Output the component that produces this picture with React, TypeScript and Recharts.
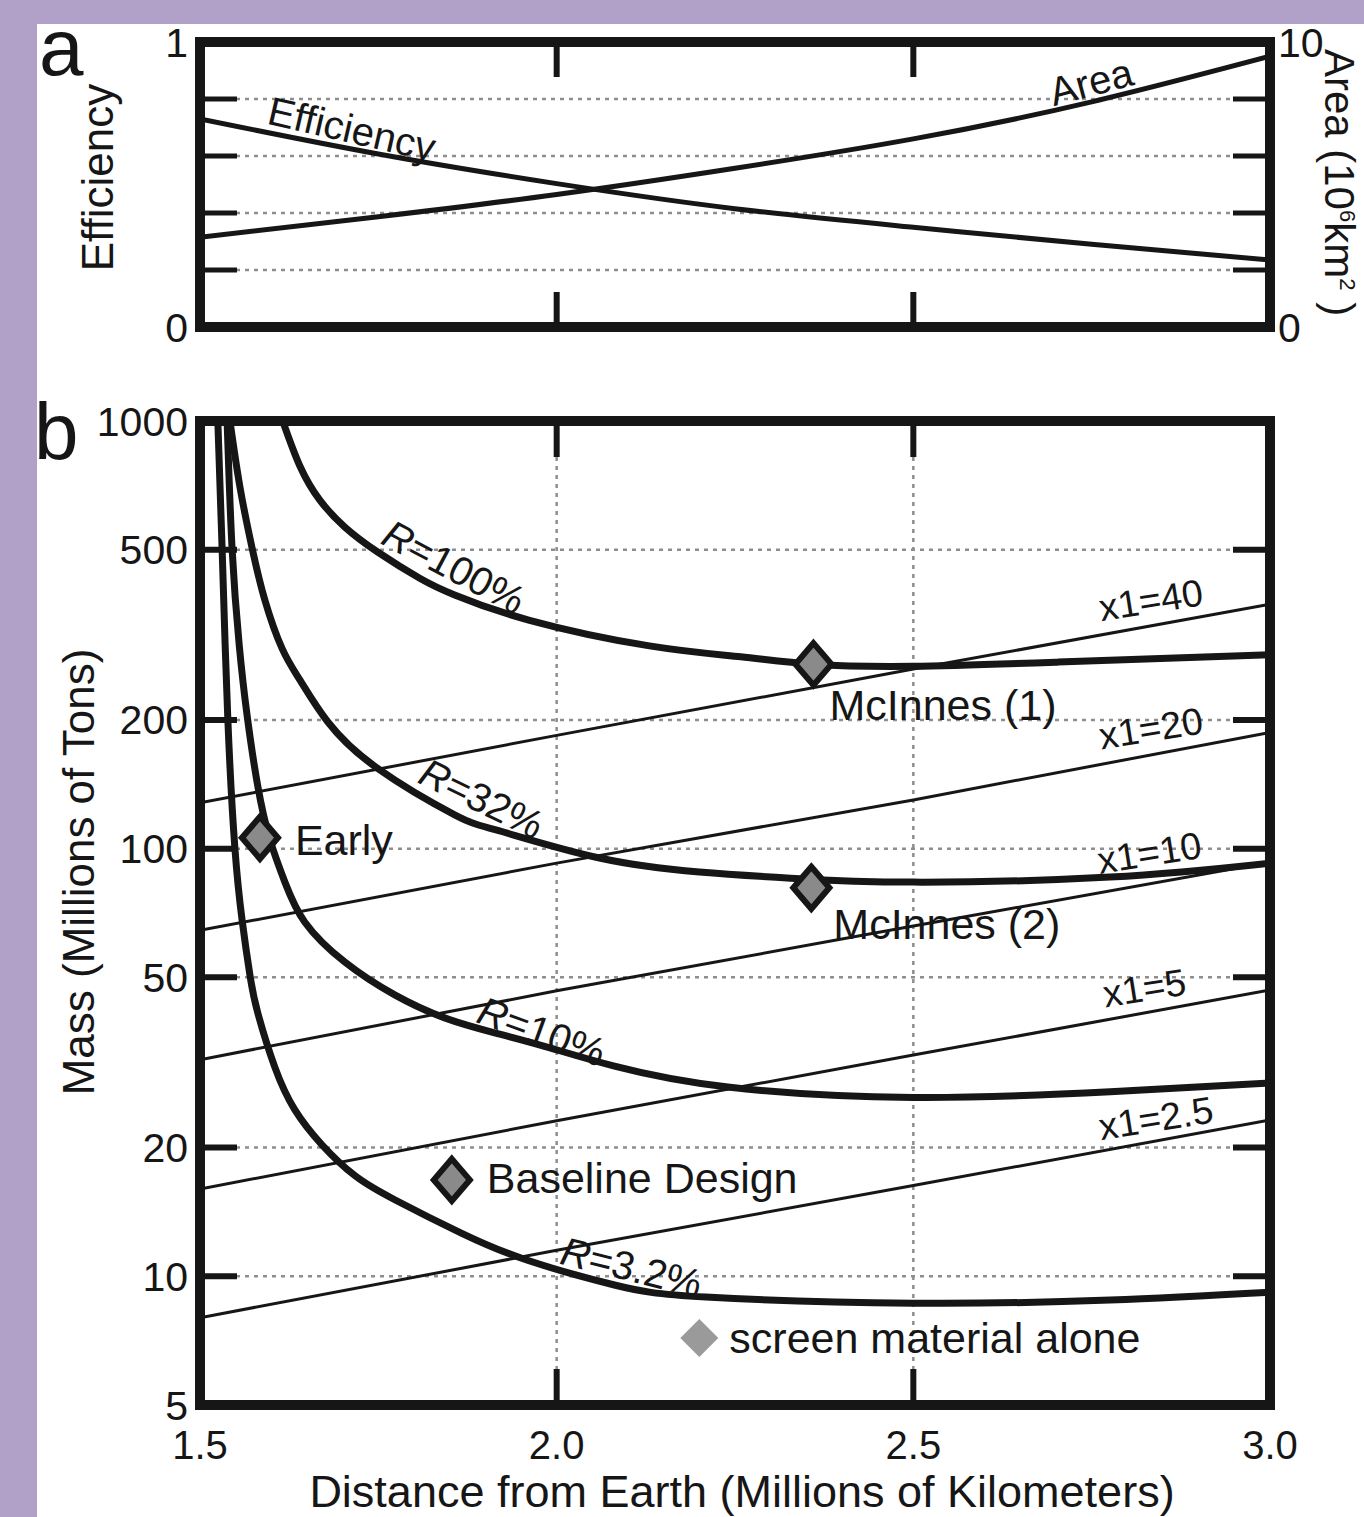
import React from 'react'
import {
  ComposedChart,
  Line,
  Scatter,
  XAxis,
  YAxis,
  CartesianGrid,
  ReferenceLine,
  ReferenceArea,
  ReferenceDot,
} from 'recharts'

const FONT = '"Liberation Sans", Arial, Helvetica, sans-serif'
const INK = '#161616'
const GRID = '#8e8e8e'
const PAGE_BG = '#b1a1c9'

// ---- axes ----
const DIST_TICKS = [1.5, 2.0, 2.5, 3.0]
const DIST_INNER = [2.0, 2.5]
const EFF_TICKS = [0, 0.2, 0.4, 0.6, 0.8, 1]
const EFF_LABELED = [0, 1]
const EFF_INNER = [0.2, 0.4, 0.6, 0.8]
const AREA_TICKS = [0, 10]
const MASS_TICKS = [5, 10, 20, 50, 100, 200, 500, 1000]
const MASS_INNER = [10, 20, 50, 100, 200, 500]

// ---- panel a: efficiency and area vs distance ----
const distA = [1.5, 1.75, 2.0, 2.25, 2.5, 2.75, 3.0]
const efficiency = [0.73, 0.607, 0.503, 0.415, 0.35, 0.29, 0.235]
const areaMkm2 = [3.15, 3.87, 4.65, 5.57, 6.6, 7.9, 9.5]

// ---- panel b: mass curves for reflectivity R, [distance, mass] ----
const massR100 = [
  [1.616, 1000], [1.640, 785], [1.668, 653], [1.703, 565], [1.749, 494],
  [1.808, 429], [1.857, 392], [1.962, 342], [2.130, 298],
  [2.258, 281], [2.360, 270], [2.5, 267], [2.703, 273], [3.0, 284],
]
const massR32 = [
  [1.542, 1000], [1.556, 701], [1.573, 505], [1.591, 381], [1.615, 294],
  [1.640, 248], [1.679, 198], [1.749, 154], [1.857, 120], [1.920, 110],
  [2.060, 95.1], [2.200, 88.2], [2.328, 85.3], [2.5, 83.5],
  [2.776, 85.8], [3.0, 92.5],
]
const massR10 = [
  [1.538, 1000], [1.545, 502], [1.555, 299], [1.566, 205], [1.581, 140],
  [1.598, 105], [1.619, 83.5], [1.647, 67.3], [1.703, 54.3], [1.773, 45.5],
  [1.843, 40.2], [1.913, 37.1], [1.983, 34.5], [2.081, 31.0], [2.240, 27.7],
  [2.5, 26.2], [2.776, 27.0], [3.0, 28.3],
]
const massR3_2 = [
  [1.525, 1000], [1.531, 502], [1.539, 201], [1.549, 99.8], [1.559, 68.1],
  [1.570, 50.6], [1.581, 41.3], [1.605, 30.8], [1.633, 24.5], [1.671, 20.3],
  [1.717, 17.2], [1.773, 15.1], [1.867, 12.6], [1.959, 10.9], [2.081, 9.54],
  [2.209, 8.94], [2.5, 8.65], [2.776, 8.8], [3.0, 9.18],
]

// constant-x1 lines
const x1Dist = [1.5, 2.0, 2.5, 3.0]
const x1_40 = [128, 184, 263, 373]
const x1_20 = [64.4, 92.5, 130, 187]
const x1_10 = [32.1, 46.5, 65.9, 93]
const x1_5 = [16.0, 23.1, 32.9, 46.7]
const x1_2_5 = [8.0, 11.5, 16.3, 23.2]

// design points
const designNames = ['Early', 'Baseline Design', 'McInnes (1)', 'McInnes (2)', 'screen material alone']
const designDist = [1.584, 1.853, 2.36, 2.357, 2.2]
const designMass = [106, 16.8, 270, 81, 7.17]

// curve annotations (text, anchor in data space)
const curveLabelText = ['R=100%', 'R=32%', 'R=10%', 'R=3.2%', 'x1=40', 'x1=20', 'x1=10', 'x1=5', 'x1=2.5']
const curveLabelDist = [1.856, 1.895, 1.979, 2.105, 2.833, 2.833, 2.831, 2.824, 2.84]
const curveLabelMass = [456, 131, 37.4, 10.5, 381, 191, 97.7, 47.2, 23.4]

// ---- styling of annotations ----
const CURVE_LABEL_ANGLE: Record<string, number> = {
  'R=100%': 28, 'R=32%': 26, 'R=10%': 20, 'R=3.2%': 14,
  'x1=40': -9, 'x1=20': -9, 'x1=10': -9, 'x1=5': -9, 'x1=2.5': -9,
}
const MARKER_STYLE: Record<string, { dx: number; dy: number; outlined: boolean }> = {
  Early: { dx: 35, dy: 2, outlined: true },
  'Baseline Design': { dx: 35, dy: -2, outlined: true },
  'McInnes (1)': { dx: 16, dy: 41, outlined: true },
  'McInnes (2)': { dx: 22, dy: 36, outlined: true },
  'screen material alone': { dx: 30, dy: 0, outlined: false },
}

const effData = distA.map((x, i) => ({ x, eff: efficiency[i], area: areaMkm2[i] }))
const pts = (arr: number[][]) => arr.map(([x, y]) => ({ x, y }))
const x1Pts = (vals: number[]) => x1Dist.map((x, i) => ({ x, y: vals[i] }))
const designData = designNames.map((name, i) => ({ name, x: designDist[i], y: designMass[i] }))

const rCurves = [massR100, massR32, massR10, massR3_2]
const x1Lines = [x1_40, x1_20, x1_10, x1_5, x1_2_5]

const textStyle = { fontFamily: FONT, fill: INK }

// inner tick marks drawn at the frame edges
const hTicks = (len: number, w: number) => (p: any) => {
  const L = Math.min(p.x1, p.x2)
  const R = Math.max(p.x1, p.x2)
  return (
    <g>
      <line x1={L} x2={L + len} y1={p.y1} y2={p.y1} stroke={INK} strokeWidth={w} />
      <line x1={R - len} x2={R} y1={p.y1} y2={p.y1} stroke={INK} strokeWidth={w} />
    </g>
  )
}
const vTicks = (len: number, w: number) => (p: any) => {
  const T = Math.min(p.y1, p.y2)
  const B = Math.max(p.y1, p.y2)
  return (
    <g>
      <line x1={p.x1} x2={p.x1} y1={T} y2={T + len} stroke={INK} strokeWidth={w} />
      <line x1={p.x1} x2={p.x1} y1={B - len} y2={B} stroke={INK} strokeWidth={w} />
    </g>
  )
}

function EffTick(props: any) {
  const { x, y, payload } = props
  if (!EFF_LABELED.includes(payload.value)) return <g />
  return (
    <text x={x} y={y} dy="0.36em" textAnchor="end" fontSize={41} {...textStyle}>
      {payload.value}
    </text>
  )
}

function DesignMarker(props: any) {
  const { cx, cy, payload } = props
  const st = MARKER_STYLE[payload.name]
  const w = st.outlined ? 18 : 19
  const h = st.outlined ? 21 : 19
  const poly = `${cx},${cy - h} ${cx + w},${cy} ${cx},${cy + h} ${cx - w},${cy}`
  return (
    <g>
      <polygon
        points={poly}
        fill={st.outlined ? '#8a8a8a' : '#9a9a9a'}
        stroke={st.outlined ? INK : 'none'}
        strokeWidth={st.outlined ? 6 : 0}
        strokeLinejoin="miter"
      />
      <text x={cx + st.dx} y={cy + st.dy} dominantBaseline="central" fontSize={43} {...textStyle}>
        {payload.name}
      </text>
    </g>
  )
}

const curveLabelShape = (text: string) => (p: any) => {
  const angle = CURVE_LABEL_ANGLE[text]
  const isR = text.startsWith('R')
  return (
    <text
      x={p.cx}
      y={p.cy}
      transform={`rotate(${angle} ${p.cx} ${p.cy})`}
      textAnchor="middle"
      dominantBaseline="central"
      fontSize={isR ? 40 : 38}
      {...textStyle}
    >
      {isR ? (
        <>
          <tspan fontStyle="italic">R</tspan>
          {text.slice(1)}
        </>
      ) : (
        text
      )}
    </text>
  )
}

const lineLabelShape = (text: string, angle: number) => (p: any) => (
  <text
    x={p.cx}
    y={p.cy}
    transform={`rotate(${angle} ${p.cx} ${p.cy})`}
    textAnchor="middle"
    dominantBaseline="central"
    fontSize={40}
    {...textStyle}
  >
    {text}
  </text>
)

function PanelA() {
  return (
    <ComposedChart
      width={1364}
      height={400}
      data={effData}
      margin={{ top: 42, right: 0, bottom: 73, left: 0 }}
      style={{ position: 'absolute', left: 0, top: 0 }}
    >
      <CartesianGrid yAxisId="left" stroke={GRID} strokeWidth={2.5} strokeDasharray="4 5" />
      <XAxis
        dataKey="x"
        type="number"
        domain={[1.5, 3]}
        ticks={DIST_TICKS}
        height={0}
        tick={false}
        axisLine={false}
        tickLine={false}
        allowDataOverflow
      />
      <YAxis
        yAxisId="left"
        domain={[0, 1]}
        ticks={EFF_TICKS}
        width={200}
        tick={<EffTick />}
        tickSize={0}
        tickMargin={12}
        axisLine={false}
        tickLine={false}
        label={{
          content: (lp: any) => {
            const vb = lp.viewBox ?? { x: 0, y: 42, width: 200, height: 285 }
            const cx = vb.x + 113
            const cy = vb.y + vb.height / 2 - 7
            return (
              <text x={cx} y={cy} transform={`rotate(-90 ${cx} ${cy})`} textAnchor="middle" fontSize={44} {...textStyle}>
                Efficiency
              </text>
            )
          },
        }}
      />
      <YAxis
        yAxisId="right"
        orientation="right"
        domain={[0, 10]}
        ticks={AREA_TICKS}
        width={94}
        tick={{ fontSize: 41, fill: INK, fontFamily: FONT }}
        tickSize={0}
        tickMargin={8}
        axisLine={false}
        tickLine={false}
        label={{
          content: (lp: any) => {
            const vb = lp.viewBox ?? { x: 1270, y: 42, width: 94, height: 285 }
            const cx = vb.x + 55
            const cy = vb.y + vb.height / 2 - 2
            return (
              <text x={cx} y={cy} transform={`rotate(90 ${cx} ${cy})`} textAnchor="middle" fontSize={42} {...textStyle}>
                Area (10
                <tspan fontSize={22} dy={-15}>6</tspan>
                <tspan dy={15}>km</tspan>
                <tspan fontSize={22} dy={-15}>2</tspan>
                <tspan dy={15}> )</tspan>
              </text>
            )
          },
        }}
      />

      {EFF_INNER.map((v) => (
        <ReferenceLine key={v} yAxisId="left" y={v} shape={hTicks(37, 5)} />
      ))}
      {DIST_INNER.map((v) => (
        <ReferenceLine key={v} yAxisId="left" x={v} shape={vTicks(35, 6)} />
      ))}

      <Line yAxisId="left" dataKey="eff" type="natural" stroke={INK} strokeWidth={5} dot={false} isAnimationActive={false} />
      <Line yAxisId="right" dataKey="area" type="natural" stroke={INK} strokeWidth={5} dot={false} isAnimationActive={false} />

      <ReferenceDot yAxisId="left" x={1.713} y={0.695} r={0} shape={lineLabelShape('Efficiency', 13)} />
      <ReferenceDot yAxisId="right" x={2.749} y={8.6} r={0} shape={lineLabelShape('Area', -15)} />

      <ReferenceArea yAxisId="left" x1={1.5} x2={3} y1={0} y2={1} fill="none" stroke={INK} strokeWidth={10} />
    </ComposedChart>
  )
}

function PanelB() {
  return (
    <ComposedChart
      width={1364}
      height={1157}
      margin={{ top: 61, right: 94, bottom: 0, left: 0 }}
      style={{ position: 'absolute', left: 0, top: 360 }}
    >
      <CartesianGrid stroke={GRID} strokeWidth={2.5} strokeDasharray="4 5" />
      <XAxis
        dataKey="x"
        type="number"
        domain={[1.5, 3]}
        ticks={DIST_TICKS}
        tickFormatter={(v: number) => v.toFixed(1)}
        height={112}
        tick={{ fontSize: 40, fill: INK, fontFamily: FONT }}
        tickSize={0}
        tickMargin={26}
        axisLine={false}
        tickLine={false}
        allowDataOverflow
        label={{
          content: (lp: any) => {
            const vb = lp.viewBox ?? { x: 200, y: 1045, width: 1070, height: 112 }
            return (
              <text x={vb.x + vb.width / 2 + 7} y={vb.y + 102} textAnchor="middle" fontSize={45} {...textStyle}>
                Distance from Earth (Millions of Kilometers)
              </text>
            )
          },
        }}
      />
      <YAxis
        scale="log"
        domain={[5, 1000]}
        ticks={MASS_TICKS}
        allowDataOverflow
        width={200}
        tick={{ fontSize: 41, fill: INK, fontFamily: FONT }}
        tickSize={0}
        tickMargin={12}
        axisLine={false}
        tickLine={false}
        label={{
          content: (lp: any) => {
            const vb = lp.viewBox ?? { x: 0, y: 61, width: 200, height: 984 }
            const cx = vb.x + 94
            const cy = vb.y + vb.height / 2 - 41
            return (
              <text x={cx} y={cy} transform={`rotate(-90 ${cx} ${cy})`} textAnchor="middle" fontSize={44} {...textStyle}>
                Mass (Millions of Tons)
              </text>
            )
          },
        }}
      />

      {MASS_INNER.map((v) => (
        <ReferenceLine key={v} y={v} shape={hTicks(37, 6)} />
      ))}
      {DIST_INNER.map((v) => (
        <ReferenceLine key={v} x={v} shape={vTicks(36, 6)} />
      ))}

      {x1Lines.map((vals, i) => (
        <Line
          key={`x1-${i}`}
          data={x1Pts(vals)}
          dataKey="y"
          type="linear"
          stroke={INK}
          strokeWidth={3}
          dot={false}
          isAnimationActive={false}
        />
      ))}
      {rCurves.map((c, i) => (
        <Line
          key={`r-${i}`}
          data={pts(c)}
          dataKey="y"
          type="natural"
          stroke={INK}
          strokeWidth={7}
          dot={false}
          isAnimationActive={false}
        />
      ))}

      <Scatter data={designData} dataKey="y" shape={<DesignMarker />} isAnimationActive={false} />

      {curveLabelText.map((t, i) => (
        <ReferenceDot key={t} x={curveLabelDist[i]} y={curveLabelMass[i]} r={0} shape={curveLabelShape(t)} />
      ))}

      <ReferenceArea x1={1.5} x2={3} y1={5} y2={1000} fill="none" stroke={INK} strokeWidth={10} />
    </ComposedChart>
  )
}

export default function App() {
  return (
    <div
      style={{
        position: 'absolute',
        left: 0,
        top: 0,
        width: 1364,
        height: 1517,
        background: PAGE_BG,
        overflow: 'hidden',
        fontFamily: FONT,
      }}
    >
      <div style={{ position: 'absolute', left: 37, top: 24, right: 0, bottom: 0, background: '#fff' }} />
      <PanelA />
      <PanelB />
      <div style={{ position: 'absolute', left: 39, top: 8, fontSize: 80, lineHeight: '80px', color: INK }}>a</div>
      <div style={{ position: 'absolute', left: 34, top: 392, fontSize: 80, lineHeight: '80px', color: INK }}>b</div>
    </div>
  )
}
